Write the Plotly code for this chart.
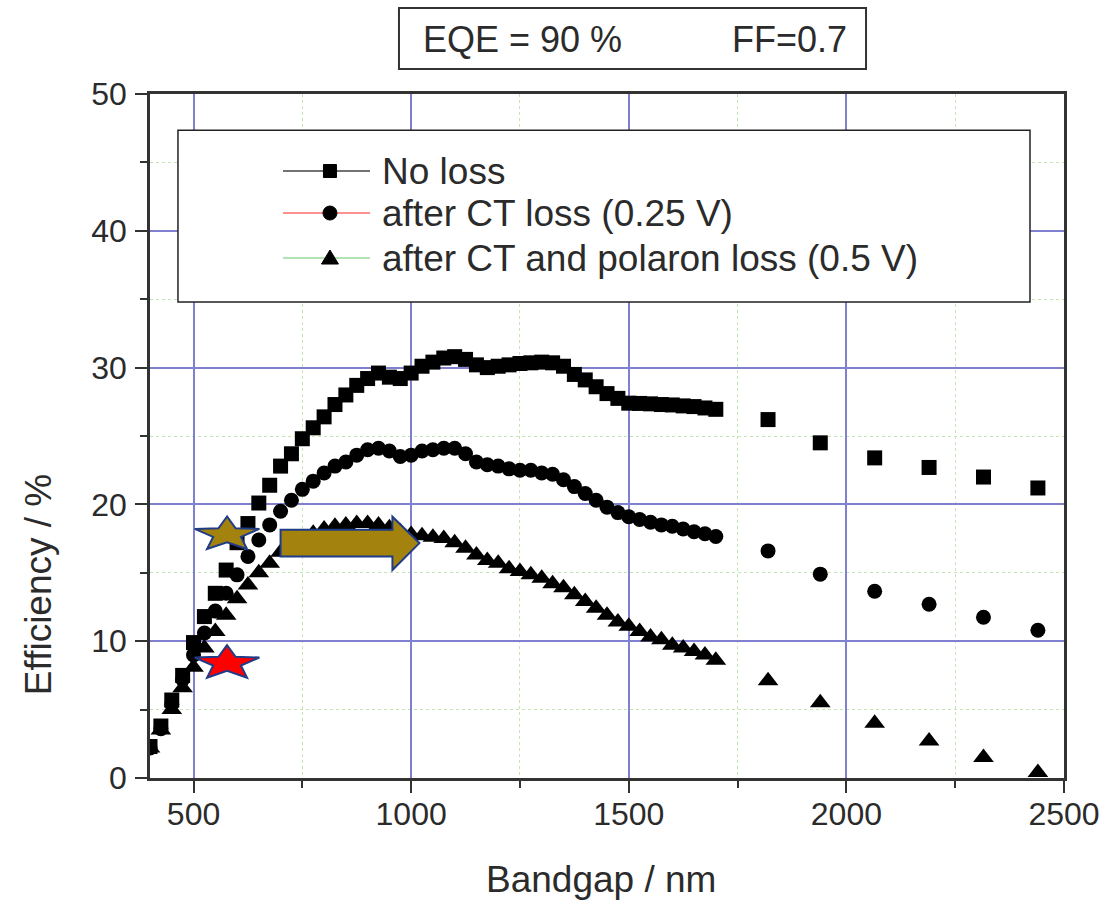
import numpy as np
import plotly.graph_objects as go

# ---------------- data ----------------
wavelength_dense = [400, 425, 450, 475, 500, 525, 550, 575, 600, 625, 650, 675, 700, 725, 750,
                    775, 800, 825, 850, 875, 900, 925, 950, 975, 1000, 1025, 1050, 1075, 1100,
                    1125, 1150, 1175, 1200, 1225, 1250, 1275, 1300, 1325, 1350, 1375, 1400, 1425,
                    1450, 1475, 1500, 1525, 1550, 1575, 1600, 1625, 1650, 1675, 1700]
wavelength_sparse = [1820, 1940, 2065, 2190, 2315, 2440]

no_loss_dense = [2.3, 3.8, 5.7, 7.5, 9.9, 11.8, 13.5, 15.2, 17.2, 18.6, 20.1, 21.4, 22.8, 23.7, 24.8,
                 25.6, 26.4, 27.3, 28.0, 28.7, 29.2, 29.6, 29.3, 29.2, 29.6, 30.1, 30.4, 30.7, 30.8,
                 30.6, 30.2, 30.0, 30.1, 30.2, 30.3, 30.35, 30.4, 30.35, 30.1, 29.5, 29.1, 28.6,
                 28.1, 27.75, 27.4, 27.38, 27.35, 27.3, 27.27, 27.2, 27.15, 27.05, 26.95]
no_loss_sparse = [26.2, 24.5, 23.4, 22.7, 22.0, 21.2]

ct_loss_dense = [2.2, 3.6, 5.4, 7.2, 9.0, 10.6, 12.2, 13.5, 14.85, 16.2, 17.4, 18.5, 19.5, 20.3, 21.1,
                 21.7, 22.3, 22.8, 23.1, 23.6, 24.0, 24.1, 23.9, 23.5, 23.6, 23.9, 24.0, 24.1, 24.1,
                 23.7, 23.1, 22.9, 22.8, 22.6, 22.5, 22.5, 22.3, 22.2, 21.8, 21.3, 20.8, 20.3,
                 19.8, 19.4, 19.1, 18.9, 18.7, 18.5, 18.4, 18.2, 18.0, 17.85, 17.65]
ct_loss_sparse = [16.6, 14.9, 13.65, 12.7, 11.75, 10.8]

ct_pol_dense = [2.2, 3.5, 5.0, 6.6, 8.1, 9.5, 10.7, 11.9, 13.1, 14.1, 15.0, 15.7, 16.5, 17.0, 17.5,
                17.9, 18.2, 18.4, 18.5, 18.6, 18.6, 18.5, 18.3, 18.0, 17.8, 17.7, 17.6, 17.5, 17.2,
                16.8, 16.3, 15.9, 15.7, 15.3, 15.1, 14.85, 14.6, 14.2, 13.9, 13.4, 12.9, 12.4,
                11.9, 11.4, 11.1, 10.7, 10.3, 10.1, 9.7, 9.5, 9.25, 9.0, 8.6]
ct_pol_sparse = [7.1, 5.5, 4.0, 2.7, 1.5, 0.4]

series_names = ["No loss", "after CT loss (0.25 V)", "after CT and polaron loss (0.5 V)"]
x_ticks = [500, 1000, 1500, 2000, 2500]
y_ticks = [0, 10, 20, 30, 40, 50]

# annotation markers (data units)
star_x = 577
gold_star_y = 17.8
red_star_y = 8.4
arrow_x = [700, 957, 1019]                    # tail, head base, tip
arrow_y = [16.2, 18.15, 15.2, 19.1, 17.17]    # body lo, body hi, head lo, head hi, tip

# ---------------- styling ----------------
FONT = "Liberation Sans, Arial, sans-serif"
TXT = "#2b2b2b"
GOLD = "#A3820E"
NAVY = "#1F3C88"

fig = go.Figure()

symbols = ["square", "circle", "triangle-up"]
sizes = [15, 15, 18]
dense = [no_loss_dense, ct_loss_dense, ct_pol_dense]
sparse = [no_loss_sparse, ct_loss_sparse, ct_pol_sparse]
legend_line_colors = ["#444444", "#ff6b6b", "#9ad89a"]

for i in range(3):
    fig.add_trace(go.Scatter(
        x=wavelength_dense + wavelength_sparse,
        y=dense[i] + sparse[i],
        mode="markers",
        marker=dict(symbol=symbols[i], size=sizes[i], color="black"),
        showlegend=False, name=series_names[i]))


def star_path(rx, ry, inner=0.43):
    pts = []
    for k in range(10):
        th = np.deg2rad(90 + 36 * k)
        r = 1.0 if k % 2 == 0 else inner
        pts.append((rx * r * np.cos(th), ry * r * np.sin(th)))
    return "M " + " L ".join(f"{px:.2f},{py:.2f}" for px, py in pts) + " Z"


shapes = []
# arrow
ax0, ax1, ax2 = arrow_x
blo, bhi, hlo, hhi, tip = arrow_y
shapes.append(dict(type="path", xref="x", yref="y", layer="above",
                   path=f"M {ax0},{blo} L {ax1},{blo} L {ax1},{hlo} L {ax2},{tip} "
                        f"L {ax1},{hhi} L {ax1},{bhi} L {ax0},{bhi} Z",
                   fillcolor=GOLD, line=dict(color=NAVY, width=2)))
# stars
for sy, col in [(gold_star_y, GOLD), (red_star_y, "#FF0000")]:
    shapes.append(dict(type="path", xref="x", yref="y", layer="above",
                       xsizemode="pixel", ysizemode="pixel", xanchor=star_x, yanchor=sy,
                       path=star_path(34, 18), fillcolor=col, line=dict(color=NAVY, width=2)))

# legend frame
shapes.append(dict(type="rect", xref="paper", yref="paper", layer="above",
                   x0=0.0306, x1=0.9628, y0=0.696, y1=0.947,
                   fillcolor="white", line=dict(color="#222222", width=1.5)))
# header frame
shapes.append(dict(type="rect", xref="paper", yref="paper", layer="above",
                   x0=0.2724, x1=0.7834, y0=1.0365, y1=1.1257,
                   fillcolor="white", line=dict(color="#333333", width=2)))

# legend entries (drawn manually to match the original key layout)
leg_rows = [0.8874, 0.8260, 0.7602]
leg_line_x = [0.1455, 0.2407]
leg_mark_x = 0.1969
leg_text_x = 0.2517
annotations = []
for i, ry in enumerate(leg_rows):
    shapes.append(dict(type="line", xref="paper", yref="paper", layer="above",
                       x0=leg_line_x[0], x1=leg_line_x[1], y0=ry, y1=ry,
                       line=dict(color=legend_line_colors[i], width=1.5)))
    common = dict(xref="paper", yref="paper", layer="above", xsizemode="pixel", ysizemode="pixel",
                  xanchor=leg_mark_x, yanchor=ry, fillcolor="black", line=dict(color="black", width=1))
    if symbols[i] == "square":
        shapes.append(dict(type="rect", x0=-6.5, x1=6.5, y0=-6.5, y1=6.5, **common))
    elif symbols[i] == "circle":
        shapes.append(dict(type="circle", x0=-7, x1=7, y0=-7, y1=7, **common))
    else:
        shapes.append(dict(type="path", path="M -8.5,-6 L 8.5,-6 L 0,8 Z", **common))
    annotations.append(dict(text=series_names[i], xref="paper", yref="paper", x=leg_text_x, y=ry,
                            xanchor="left", yanchor="middle", showarrow=False,
                            font=dict(size=37, color=TXT, family=FONT)))

annotations += [
    dict(text="EQE = 90 %", xref="paper", yref="paper", x=0.2960, y=1.079,
         xanchor="left", yanchor="middle", showarrow=False, font=dict(size=36, color=TXT, family=FONT)),
    dict(text="FF=0.7", xref="paper", yref="paper", x=0.7650, y=1.079,
         xanchor="right", yanchor="middle", showarrow=False, font=dict(size=36, color=TXT, family=FONT)),
    dict(text="Efficiency / %", xref="paper", yref="paper", x=-0.1225, y=0.282,
         xanchor="center", yanchor="middle", textangle=-90, showarrow=False,
         font=dict(size=37, color=TXT, family=FONT)),
    dict(text="Bandgap / nm", xref="paper", yref="paper", x=0.4934, y=-0.149,
         xanchor="center", yanchor="middle", showarrow=False,
         font=dict(size=37, color=TXT, family=FONT)),
]

axis_common = dict(showline=True, linecolor="#333333", linewidth=2.5, mirror=True,
                   ticks="outside", ticklen=12, tickwidth=2, tickcolor="#333333",
                   showgrid=True, gridcolor="#8080d0", gridwidth=1.5, zeroline=False,
                   automargin=False,
                   tickfont=dict(size=32, color=TXT, family=FONT))

fig.update_layout(
    width=1106, height=901,
    margin=dict(l=150, r=42, t=94, b=123),
    paper_bgcolor="white", plot_bgcolor="white",
    font=dict(family=FONT, color=TXT),
    showlegend=False,
    xaxis=dict(range=[400, 2500], tickvals=x_ticks, ticklabelstandoff=-6,
               minor=dict(dtick=250, tick0=0, ticks="outside", ticklen=7, tickwidth=2,
                          tickcolor="#333333", showgrid=True, gridcolor="#c4e6b4",
                          griddash="dot", gridwidth=1),
               **axis_common),
    yaxis=dict(range=[0, 50], tickvals=y_ticks, ticklabelstandoff=2,
               minor=dict(dtick=5, tick0=0, ticks="outside", ticklen=7, tickwidth=2,
                          tickcolor="#333333", showgrid=True, gridcolor="#c4e6b4",
                          griddash="dot", gridwidth=1),
               **axis_common),
    shapes=shapes,
    annotations=annotations,
)

fig.write_html("out.html")
